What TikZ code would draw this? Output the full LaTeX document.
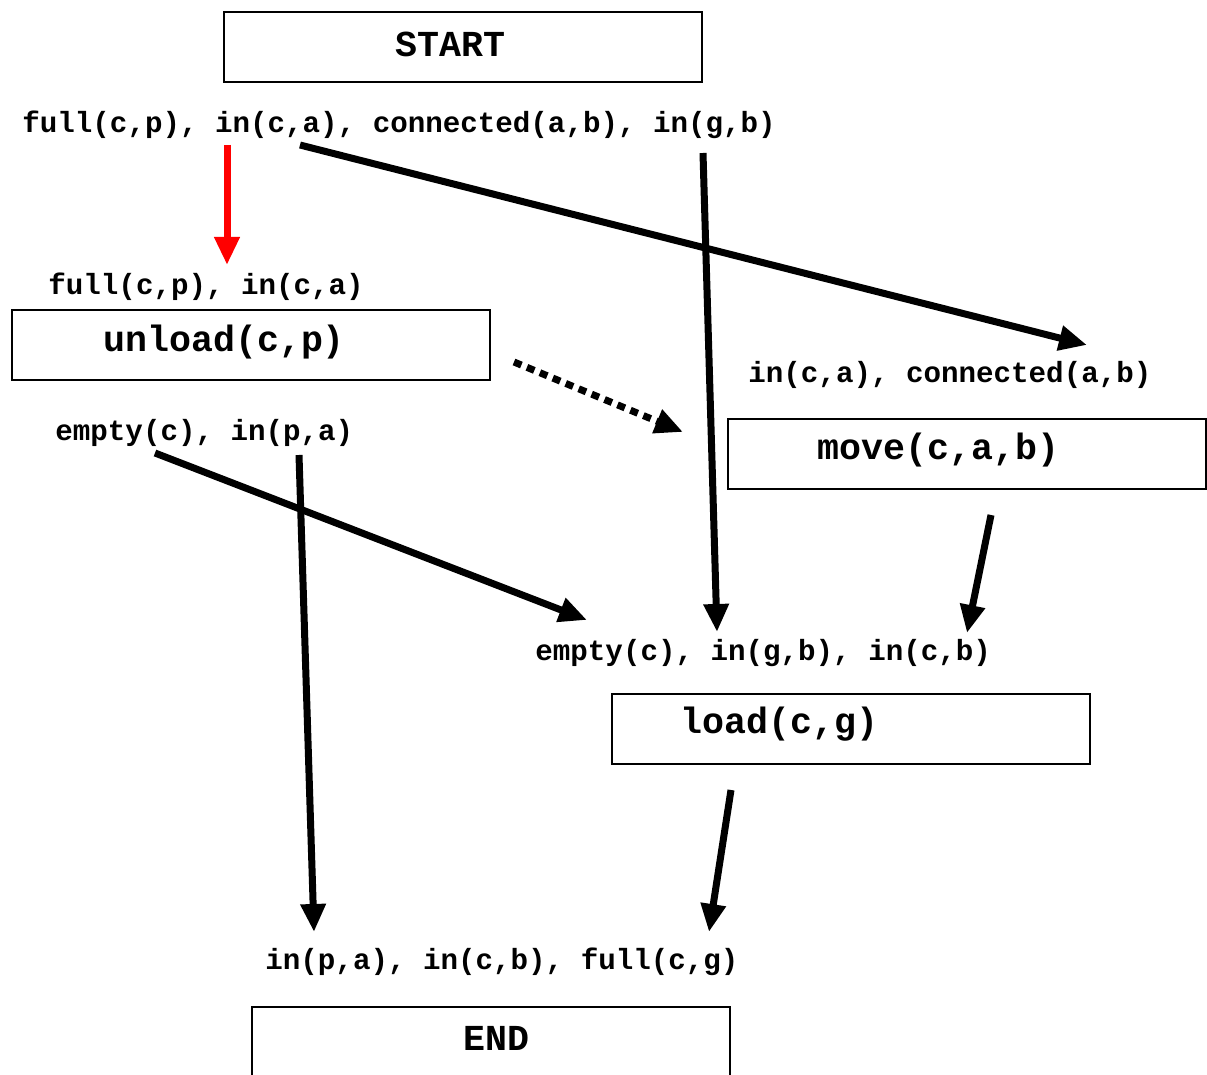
\documentclass[tikz,border=0pt]{standalone}
\usepackage{fontspec}
\setmonofont{Liberation Mono}
\usetikzlibrary{arrows.meta}
\tikzset{
  box/.style={draw,line width=1pt,minimum width=239pt,minimum height=35pt,inner sep=0pt},
  fact/.style={anchor=west,inner sep=0pt,yshift=-1pt,font=\ttfamily\bfseries\fontsize{14.6}{17}\selectfont},
  act/.style={anchor=west,inner sep=0pt,yshift=-1pt,font=\ttfamily\bfseries\fontsize{18.3}{22}\selectfont},
  flow/.style={line width=3.5pt,-{Triangle[length=14pt,width=12pt]}},
}
\begin{document}
\begin{tikzpicture}[x=0.5pt,y=-0.5pt]
  \useasboundingbox (0,0) rectangle (1207,1075);
  % operator boxes
  \node[box] (startbox) at (463,47.5) {};
  \node[box] (unloadbox) at (251,345) {};
  \node[box] (movebox) at (967,454) {};
  \node[box] (loadbox) at (851,729) {};
  \node[box] (endbox) at (491,1042) {};
  \node[act] (start) at (395,42) {START};
  \node[act] (unload) at (103,340) {unload(c,p)};
  \node[act] (move) at (817,448) {move(c,a,b)};
  \node[act] (load) at (680,722) {load(c,g)};
  \node[act] (end) at (463,1036) {END};
  % pre- and postconditions
  \node[fact] (init) at (22,123) {full(c,p), in(c,a), connected(a,b), in(g,b)};
  \node[fact] (preunload) at (48,285) {full(c,p), in(c,a)};
  \node[fact] (postunload) at (55,431) {empty(c), in(p,a)};
  \node[fact] (premove) at (748,373) {in(c,a), connected(a,b)};
  \node[fact] (preload) at (535,651) {empty(c), in(g,b), in(c,b)};
  \node[fact] (goal) at (265,960) {in(p,a), in(c,b), full(c,g)};
  % arrow ends
  \coordinate (i1) at (227,145);  \coordinate (u1) at (227,265);
  \coordinate (i2) at (300,145);  \coordinate (m1) at (1087,345);
  \coordinate (i3) at (703,153);  \coordinate (l1) at (717,632);
  \coordinate (u2) at (514,362);  \coordinate (m2) at (683,432);
  \coordinate (u3) at (155,453);  \coordinate (l2) at (587,620);
  \coordinate (u4) at (299,455);  \coordinate (g1) at (314,932);
  \coordinate (m3) at (991,515);  \coordinate (l3) at (967,633);
  \coordinate (l4) at (731,790);  \coordinate (g2) at (709,932);
  % links
  \draw[flow,red] (i1) -- (u1);
  \draw[flow] (i2) -- (m1);
  \draw[flow] (i3) -- (l1);
  \draw[flow,dash pattern=on 4pt off 3pt] (u2) -- (m2);
  \draw[flow] (u3) -- (l2);
  \draw[flow] (u4) -- (g1);
  \draw[flow] (m3) -- (l3);
  \draw[flow] (l4) -- (g2);
\end{tikzpicture}
\end{document}
